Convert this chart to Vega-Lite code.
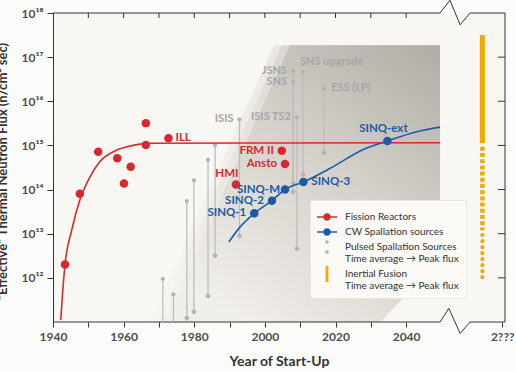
{
  "$schema": "https://vega.github.io/schema/vega-lite/v6.json",
  "width": 452,
  "height": 309,
  "autosize": {"type": "none"},
  "padding": {"left": 53, "top": 13, "right": 11, "bottom": 50},
  "background": "#fcfcfa",
  "view": {"fill": "#f8f7f3", "stroke": null},
  "datasets": {
    "band": [
      {"year": 1971.7, "flux": 1e11, "flux2": 1e11},
      {"year": 2007.1, "flux": 1e11, "flux2": 1.86e17},
      {"year": 2032.6, "flux": 1e11, "flux2": 1.86e17},
      {"year": 2049.6, "flux": 2.5e12, "flux2": 1.86e17}
    ],
    "bandSoft1": [
      {"year": 1969.4, "flux": 1e11, "flux2": 1e11},
      {"year": 2004.8, "flux": 1e11, "flux2": 1.86e17},
      {"year": 2032.6, "flux": 1e11, "flux2": 1.86e17},
      {"year": 2049.6, "flux": 2.5e12, "flux2": 1.86e17}
    ],
    "bandSoft2": [
      {"year": 1967.2, "flux": 1e11, "flux2": 1e11},
      {"year": 2002.6, "flux": 1e11, "flux2": 1.86e17},
      {"year": 2032.6, "flux": 1e11, "flux2": 1.86e17},
      {"year": 2049.6, "flux": 2.5e12, "flux2": 1.86e17}
    ],
    "frame": [
      {"edge": "top", "year": 1940, "flux": 1e18},
      {"edge": "top", "year": 2049.6, "flux": 1e18},
      {"edge": "top", "year": 2052.4, "flux": 1.95e18},
      {"edge": "top", "year": 2055.3, "flux": 5.4e17},
      {"edge": "top", "year": 2058.1, "flux": 1e18},
      {"edge": "top", "year": 2068, "flux": 1e18},
      {"edge": "bottom", "year": 1940, "flux": 1e11},
      {"edge": "bottom", "year": 2049.6, "flux": 1e11},
      {"edge": "bottom", "year": 2052.1, "flux": 2.04e11},
      {"edge": "bottom", "year": 2055.3, "flux": 5.5e10},
      {"edge": "bottom", "year": 2058.1, "flux": 1e11},
      {"edge": "bottom", "year": 2068, "flux": 1e11}
    ],
    "frameTicks": [
      {"year": 2068, "year2": 2068, "flux": 1e18, "flux2": 1e11},
      {"year": 2068, "year2": 2066.0, "flux": 1e12, "flux2": 1e12},
      {"year": 2068, "year2": 2066.0, "flux": 1e13, "flux2": 1e13},
      {"year": 2068, "year2": 2066.0, "flux": 1e14, "flux2": 1e14},
      {"year": 2068, "year2": 2066.0, "flux": 1e15, "flux2": 1e15},
      {"year": 2068, "year2": 2066.0, "flux": 1e16, "flux2": 1e16},
      {"year": 2068, "year2": 2066.0, "flux": 1e17, "flux2": 1e17},
      {"year": 1950, "year2": 1950, "flux": 1e18, "flux2": 7.7e17},
      {"year": 1960, "year2": 1960, "flux": 1e18, "flux2": 7.7e17},
      {"year": 1970, "year2": 1970, "flux": 1e18, "flux2": 7.7e17},
      {"year": 1980, "year2": 1980, "flux": 1e18, "flux2": 7.7e17},
      {"year": 1990, "year2": 1990, "flux": 1e18, "flux2": 7.7e17},
      {"year": 2000, "year2": 2000, "flux": 1e18, "flux2": 7.7e17},
      {"year": 2010, "year2": 2010, "flux": 1e18, "flux2": 7.7e17},
      {"year": 2020, "year2": 2020, "flux": 1e18, "flux2": 7.7e17},
      {"year": 2030, "year2": 2030, "flux": 1e18, "flux2": 7.7e17},
      {"year": 2040, "year2": 2040, "flux": 1e18, "flux2": 7.7e17}
    ],
    "pulsed": [
      {"name": "", "year": 1971.1, "flux": 9.5e11, "avg": 3e10},
      {"name": "", "year": 1974.1, "flux": 4.2e11, "avg": 3e10},
      {"name": "", "year": 1977.9, "flux": 5.5e13, "avg": 1.23e11},
      {"name": "", "year": 1979.9, "flux": 1.62e14, "avg": 1.7e11},
      {"name": "", "year": 1983.9, "flux": 4.7e14, "avg": 3.9e11},
      {"name": "", "year": 1985.9, "flux": 1.02e15, "avg": 3.2e12},
      {"name": "ISIS", "year": 1992.8, "flux": 3.9e15, "avg": 8.9e12},
      {"name": "JSNS", "year": 2008.0, "flux": 4.8e16, "avg": 1.38e14},
      {"name": "SNS", "year": 2008.0, "flux": 2.75e16, "avg": 8.9e13},
      {"name": "ISIS TS2", "year": 2009.1, "flux": 4.3e15, "avg": 4.6e12},
      {"name": "SNS upgrade", "year": 2010.8, "flux": 4.6e16, "avg": 2.2e14},
      {"name": "ESS (LP)", "year": 2016.8, "flux": 1.95e16, "avg": 6.8e14}
    ],
    "fission": [
      {"name": "", "year": 1943.4, "flux": 2.0e12},
      {"name": "", "year": 1947.6, "flux": 8.0e13},
      {"name": "", "year": 1952.8, "flux": 7.2e14},
      {"name": "", "year": 1958.2, "flux": 5.1e14},
      {"name": "", "year": 1960.1, "flux": 1.38e14},
      {"name": "", "year": 1962.0, "flux": 3.3e14},
      {"name": "", "year": 1966.3, "flux": 3.2e15},
      {"name": "", "year": 1966.3, "flux": 1.02e15},
      {"name": "ILL", "year": 1972.7, "flux": 1.45e15},
      {"name": "HMI", "year": 1991.8, "flux": 1.3e14},
      {"name": "FRM II", "year": 2004.8, "flux": 7.6e14},
      {"name": "Ansto", "year": 2005.7, "flux": 3.8e14}
    ],
    "fissionCurve": [
      {"year": 1942.2, "flux": 1.1e11},
      {"year": 1942.7, "flux": 4.4e11},
      {"year": 1943.4, "flux": 2.0e12},
      {"year": 1945.3, "flux": 1.2e13},
      {"year": 1947.6, "flux": 5.8e13},
      {"year": 1950.5, "flux": 1.95e14},
      {"year": 1953.3, "flux": 4.3e14},
      {"year": 1957.1, "flux": 7.2e14},
      {"year": 1960.9, "flux": 9.3e14},
      {"year": 1964.6, "flux": 1.07e15},
      {"year": 1967.4, "flux": 1.12e15},
      {"year": 2049.6, "flux": 1.15e15}
    ],
    "spallation": [
      {"name": "SINQ-1", "year": 1997.0, "flux": 2.9e13},
      {"name": "SINQ-2", "year": 2002.0, "flux": 5.6e13},
      {"name": "SINQ-M", "year": 2005.7, "flux": 1.0e14},
      {"name": "SINQ-3", "year": 2010.9, "flux": 1.48e14},
      {"name": "SINQ-ext", "year": 2034.7, "flux": 1.26e15}
    ],
    "spallationCurve": [
      {"year": 1989.8, "flux": 6.5e12},
      {"year": 1993.0, "flux": 1.43e13},
      {"year": 1997.0, "flux": 2.9e13},
      {"year": 2002.0, "flux": 5.6e13},
      {"year": 2005.7, "flux": 1.0e14},
      {"year": 2010.9, "flux": 1.48e14},
      {"year": 2018.4, "flux": 3.0e14},
      {"year": 2027.9, "flux": 8.1e14},
      {"year": 2034.7, "flux": 1.26e15},
      {"year": 2043.0, "flux": 2.04e15},
      {"year": 2049.6, "flux": 2.6e15}
    ],
    "fusion": [
      {"year": 2061.6, "peak_top": 3.16e17, "solid_bottom": 1.12e15, "square_top": 9.3e14, "square_bottom": 1.2e13, "dot_top": 9.3e12, "dot_bottom": 7.6e11}
    ],
    "categories": [
      {"cat": "Fission Reactors"},
      {"cat": "CW Spallation sources"},
      {"cat": "Pulsed Spallation Sources"},
      {"cat": "Inertial Fusion"}
    ]
  },
  "layer": [
    {
      "data": {"name": "bandSoft2"},
      "mark": {"type": "area", "opacity": 0.3, "color": {"gradient": "linear", "x1": 1, "y1": 0, "x2": 0.25, "y2": 1, "stops": [{"offset": 0, "color": "#b0ada6"}, {"offset": 0.45, "color": "#d3d0c9"}, {"offset": 1, "color": "#f1efea"}]}},
      "encoding": {
        "x": {"field": "year", "type": "quantitative", "scale": {"domain": [1940, 2068], "nice": false, "zero": false},
          "axis": {"orient": "bottom", "values": [1940, 1950, 1960, 1970, 1980, 1990, 2000, 2010, 2020, 2030, 2040, 2067.2], "format": "d",
            "labelExpr": "datum.value > 2060 ? '2???' : (datum.value % 20 == 0 ? datum.label : '')",
            "domain": false, "grid": false, "ticks": true, "tickSize": 5, "tickColor": "#333", "labelFont": "Lato", "labelFontSize": 12, "labelFontWeight": "bold", "labelColor": "#4d4d4d", "labelPadding": 4, "labelFlush": false, "labelOverlap": false,
            "title": "Year of Start-Up", "titleFont": "Lato", "titleFontSize": 14, "titleFontWeight": "bold", "titleColor": "#333", "titlePadding": 12}},
        "y": {"field": "flux", "type": "quantitative", "scale": {"type": "log", "domain": [1e11, 1e18], "nice": false},
          "axis": {"orient": "left", "values": [1e12, 1e13, 1e14, 1e15, 1e16, 1e17, 1e18],
            "labelExpr": "['','','','','','','','','','','','','10¹²','10¹³','10¹⁴','10¹⁵','10¹⁶','10¹⁷','10¹⁸'][round(log(datum.value)/LN10)]",
            "domain": true, "domainColor": "#333", "tickColor": "#333", "tickSize": 6, "grid": false, "labelFont": "Lato", "labelFontSize": 12, "labelFontWeight": "bold", "labelColor": "#4d4d4d", "labelPadding": 4, "labelFlush": false, "labelOverlap": false,
            "title": "\"Effective\" Thermal Neutron Flux (n/cm² sec)", "titleFont": "Lato", "titleFontSize": 13, "titleFontWeight": "bold", "titleColor": "#333", "titleX": -44, "titleY": 158, "titleBaseline": "bottom"}},
        "y2": {"field": "flux2"}
      }
    },
    {
      "data": {"name": "bandSoft1"},
      "mark": {"type": "area", "opacity": 0.4, "color": {"gradient": "linear", "x1": 1, "y1": 0, "x2": 0.25, "y2": 1, "stops": [{"offset": 0, "color": "#b0ada6"}, {"offset": 0.45, "color": "#d3d0c9"}, {"offset": 1, "color": "#f1efea"}]}},
      "encoding": {
        "x": {"field": "year", "type": "quantitative", "scale": {"domain": [1940, 2068], "nice": false, "zero": false}},
        "y": {"field": "flux", "type": "quantitative", "scale": {"type": "log", "domain": [1e11, 1e18], "nice": false}},
        "y2": {"field": "flux2"}
      }
    },
    {
      "data": {"name": "band"},
      "mark": {"type": "area", "color": {"gradient": "linear", "x1": 1, "y1": 0, "x2": 0.25, "y2": 1, "stops": [{"offset": 0, "color": "#b0ada6"}, {"offset": 0.45, "color": "#d3d0c9"}, {"offset": 1, "color": "#f1efea"}]}},
      "encoding": {
        "x": {"field": "year", "type": "quantitative", "scale": {"domain": [1940, 2068], "nice": false, "zero": false}},
        "y": {"field": "flux", "type": "quantitative", "scale": {"type": "log", "domain": [1e11, 1e18], "nice": false}},
        "y2": {"field": "flux2"}
      }
    },
    {
      "data": {"name": "frame"},
      "mark": {"type": "line", "color": "#333", "strokeWidth": 1, "clip": false},
      "encoding": {
        "x": {"field": "year", "type": "quantitative", "scale": {"domain": [1940, 2068], "nice": false, "zero": false}},
        "y": {"field": "flux", "type": "quantitative", "scale": {"type": "log", "domain": [1e11, 1e18], "nice": false}},
        "detail": {"field": "edge"}
      }
    },
    {
      "data": {"name": "frameTicks"},
      "mark": {"type": "rule", "color": "#333", "strokeWidth": 1},
      "encoding": {
        "x": {"field": "year", "type": "quantitative", "scale": {"domain": [1940, 2068], "nice": false, "zero": false}},
        "x2": {"field": "year2"},
        "y": {"field": "flux", "type": "quantitative", "scale": {"type": "log", "domain": [1e11, 1e18], "nice": false}},
        "y2": {"field": "flux2"}
      }
    },
    {
      "data": {"name": "pulsed"},
      "mark": {"type": "rule", "color": "#bdbdbd", "strokeWidth": 1.3, "clip": true},
      "encoding": {
        "x": {"field": "year", "type": "quantitative", "scale": {"domain": [1940, 2068], "nice": false, "zero": false}},
        "y": {"field": "flux", "type": "quantitative", "scale": {"type": "log", "domain": [1e11, 1e18], "nice": false}},
        "y2": {"field": "avg"}
      }
    },
    {
      "data": {"name": "pulsed"},
      "mark": {"type": "point", "shape": "diamond", "filled": true, "color": "#b3b3b3", "size": 34, "opacity": 1, "clip": true},
      "encoding": {
        "x": {"field": "year", "type": "quantitative", "scale": {"domain": [1940, 2068], "nice": false, "zero": false}},
        "y": {"field": "avg", "type": "quantitative", "scale": {"type": "log", "domain": [1e11, 1e18], "nice": false}}
      }
    },
    {
      "data": {"name": "pulsed"},
      "mark": {"type": "point", "shape": "circle", "filled": true, "color": "#b3b3b3", "size": 18, "opacity": 1},
      "encoding": {
        "x": {"field": "year", "type": "quantitative", "scale": {"domain": [1940, 2068], "nice": false, "zero": false}},
        "y": {"field": "flux", "type": "quantitative", "scale": {"type": "log", "domain": [1e11, 1e18], "nice": false}}
      }
    },
    {
      "data": {"name": "fissionCurve"},
      "mark": {"type": "line", "color": "#d42b2b", "strokeWidth": 1.6, "interpolate": "monotone"},
      "encoding": {
        "x": {"field": "year", "type": "quantitative", "scale": {"domain": [1940, 2068], "nice": false, "zero": false}},
        "y": {"field": "flux", "type": "quantitative", "scale": {"type": "log", "domain": [1e11, 1e18], "nice": false}}
      }
    },
    {
      "data": {"name": "spallationCurve"},
      "mark": {"type": "line", "color": "#1f5ca6", "strokeWidth": 1.6, "interpolate": "monotone"},
      "encoding": {
        "x": {"field": "year", "type": "quantitative", "scale": {"domain": [1940, 2068], "nice": false, "zero": false}},
        "y": {"field": "flux", "type": "quantitative", "scale": {"type": "log", "domain": [1e11, 1e18], "nice": false}}
      }
    },
    {
      "data": {"name": "fission"},
      "mark": {"type": "point", "shape": "circle", "filled": true, "color": "#d7282d", "size": 72, "opacity": 1},
      "encoding": {
        "x": {"field": "year", "type": "quantitative", "scale": {"domain": [1940, 2068], "nice": false, "zero": false}},
        "y": {"field": "flux", "type": "quantitative", "scale": {"type": "log", "domain": [1e11, 1e18], "nice": false}}
      }
    },
    {
      "data": {"name": "spallation"},
      "mark": {"type": "point", "shape": "circle", "filled": true, "color": "#1c5aa5", "size": 72, "opacity": 1},
      "encoding": {
        "x": {"field": "year", "type": "quantitative", "scale": {"domain": [1940, 2068], "nice": false, "zero": false}},
        "y": {"field": "flux", "type": "quantitative", "scale": {"type": "log", "domain": [1e11, 1e18], "nice": false}}
      }
    },
    {
      "data": {"name": "fusion"},
      "mark": {"type": "rule", "color": "#f2a900", "strokeWidth": 5, "strokeCap": "butt"},
      "encoding": {
        "x": {"field": "year", "type": "quantitative", "scale": {"domain": [1940, 2068], "nice": false, "zero": false}},
        "y": {"field": "peak_top", "type": "quantitative", "scale": {"type": "log", "domain": [1e11, 1e18], "nice": false}},
        "y2": {"field": "solid_bottom"}
      }
    },
    {
      "data": {"name": "fusion"},
      "mark": {"type": "rule", "color": "#f2a900", "strokeWidth": 4.5, "strokeCap": "butt", "strokeDash": [4, 2.2]},
      "encoding": {
        "x": {"field": "year", "type": "quantitative", "scale": {"domain": [1940, 2068], "nice": false, "zero": false}},
        "y": {"field": "square_top", "type": "quantitative", "scale": {"type": "log", "domain": [1e11, 1e18], "nice": false}},
        "y2": {"field": "square_bottom"}
      }
    },
    {
      "data": {"name": "fusion"},
      "mark": {"type": "rule", "color": "#f2a900", "strokeWidth": 4.2, "strokeCap": "round", "strokeDash": [0.01, 6]},
      "encoding": {
        "x": {"field": "year", "type": "quantitative", "scale": {"domain": [1940, 2068], "nice": false, "zero": false}},
        "y": {"field": "dot_top", "type": "quantitative", "scale": {"type": "log", "domain": [1e11, 1e18], "nice": false}},
        "y2": {"field": "dot_bottom"}
      }
    },
    {
      "data": {"name": "fission"},
      "transform": [{"filter": "indexof(['FRM II','Ansto'], datum.name) >= 0"}],
      "mark": {"type": "text", "align": "right", "baseline": "middle", "dx": -8, "font": "Lato", "fontSize": 11.5, "fontWeight": "bold", "color": "#d7282d"},
      "encoding": {
        "x": {"field": "year", "type": "quantitative", "scale": {"domain": [1940, 2068], "nice": false, "zero": false}},
        "y": {"field": "flux", "type": "quantitative", "scale": {"type": "log", "domain": [1e11, 1e18], "nice": false}},
        "text": {"field": "name"}
      }
    },
    {
      "data": {"name": "fission"},
      "transform": [{"filter": "datum.name == 'ILL'"}],
      "mark": {"type": "text", "align": "left", "baseline": "middle", "dx": 7, "font": "Lato", "fontSize": 11.5, "fontWeight": "bold", "color": "#d7282d"},
      "encoding": {
        "x": {"field": "year", "type": "quantitative", "scale": {"domain": [1940, 2068], "nice": false, "zero": false}},
        "y": {"field": "flux", "type": "quantitative", "scale": {"type": "log", "domain": [1e11, 1e18], "nice": false}},
        "text": {"field": "name"}
      }
    },
    {
      "data": {"name": "fission"},
      "transform": [{"filter": "datum.name == 'HMI'"}],
      "mark": {"type": "text", "align": "center", "baseline": "middle", "dx": -9, "dy": -11, "font": "Lato", "fontSize": 11.5, "fontWeight": "bold", "color": "#d7282d"},
      "encoding": {
        "x": {"field": "year", "type": "quantitative", "scale": {"domain": [1940, 2068], "nice": false, "zero": false}},
        "y": {"field": "flux", "type": "quantitative", "scale": {"type": "log", "domain": [1e11, 1e18], "nice": false}},
        "text": {"field": "name"}
      }
    },
    {
      "data": {"name": "spallation"},
      "transform": [{"filter": "indexof(['SINQ-1','SINQ-2'], datum.name) >= 0"}],
      "mark": {"type": "text", "align": "right", "baseline": "middle", "dx": -8, "font": "Lato", "fontSize": 11.5, "fontWeight": "bold", "color": "#1c5aa5"},
      "encoding": {
        "x": {"field": "year", "type": "quantitative", "scale": {"domain": [1940, 2068], "nice": false, "zero": false}},
        "y": {"field": "flux", "type": "quantitative", "scale": {"type": "log", "domain": [1e11, 1e18], "nice": false}},
        "text": {"field": "name"}
      }
    },
    {
      "data": {"name": "spallation"},
      "transform": [{"filter": "datum.name == 'SINQ-M'"}],
      "mark": {"type": "text", "align": "right", "baseline": "middle", "dx": -5, "font": "Lato", "fontSize": 11.5, "fontWeight": "bold", "color": "#1c5aa5"},
      "encoding": {
        "x": {"field": "year", "type": "quantitative", "scale": {"domain": [1940, 2068], "nice": false, "zero": false}},
        "y": {"field": "flux", "type": "quantitative", "scale": {"type": "log", "domain": [1e11, 1e18], "nice": false}},
        "text": {"field": "name"}
      }
    },
    {
      "data": {"name": "spallation"},
      "transform": [{"filter": "datum.name == 'SINQ-3'"}],
      "mark": {"type": "text", "align": "left", "baseline": "middle", "dx": 8, "font": "Lato", "fontSize": 11.5, "fontWeight": "bold", "color": "#1c5aa5"},
      "encoding": {
        "x": {"field": "year", "type": "quantitative", "scale": {"domain": [1940, 2068], "nice": false, "zero": false}},
        "y": {"field": "flux", "type": "quantitative", "scale": {"type": "log", "domain": [1e11, 1e18], "nice": false}},
        "text": {"field": "name"}
      }
    },
    {
      "data": {"name": "spallation"},
      "transform": [{"filter": "datum.name == 'SINQ-ext'"}],
      "mark": {"type": "text", "align": "center", "baseline": "middle", "dx": -4, "dy": -12, "font": "Lato", "fontSize": 11.5, "fontWeight": "bold", "color": "#1c5aa5"},
      "encoding": {
        "x": {"field": "year", "type": "quantitative", "scale": {"domain": [1940, 2068], "nice": false, "zero": false}},
        "y": {"field": "flux", "type": "quantitative", "scale": {"type": "log", "domain": [1e11, 1e18], "nice": false}},
        "text": {"field": "name"}
      }
    },
    {
      "data": {"name": "pulsed"},
      "transform": [{"filter": "indexof(['ISIS','ISIS TS2','JSNS','SNS'], datum.name) >= 0"}],
      "mark": {"type": "text", "align": "right", "baseline": "middle", "dx": -6, "font": "Lato", "fontSize": 11, "fontWeight": "bold", "color": "#a6a6a6"},
      "encoding": {
        "x": {"field": "year", "type": "quantitative", "scale": {"domain": [1940, 2068], "nice": false, "zero": false}},
        "y": {"field": "flux", "type": "quantitative", "scale": {"type": "log", "domain": [1e11, 1e18], "nice": false}},
        "text": {"field": "name"}
      }
    },
    {
      "data": {"name": "pulsed"},
      "transform": [{"filter": "datum.name == 'SNS upgrade'"}],
      "mark": {"type": "text", "align": "left", "baseline": "middle", "dx": -3, "dy": -10, "font": "Lato", "fontSize": 11, "fontWeight": "bold", "color": "#a6a6a6"},
      "encoding": {
        "x": {"field": "year", "type": "quantitative", "scale": {"domain": [1940, 2068], "nice": false, "zero": false}},
        "y": {"field": "flux", "type": "quantitative", "scale": {"type": "log", "domain": [1e11, 1e18], "nice": false}},
        "text": {"field": "name"}
      }
    },
    {
      "data": {"name": "pulsed"},
      "transform": [{"filter": "datum.name == 'ESS (LP)'"}],
      "mark": {"type": "text", "align": "left", "baseline": "middle", "dx": 7, "font": "Lato", "fontSize": 11, "fontWeight": "bold", "color": "#a6a6a6"},
      "encoding": {
        "x": {"field": "year", "type": "quantitative", "scale": {"domain": [1940, 2068], "nice": false, "zero": false}},
        "y": {"field": "flux", "type": "quantitative", "scale": {"type": "log", "domain": [1e11, 1e18], "nice": false}},
        "text": {"field": "name"}
      }
    },
    {
      "data": {"name": "categories"},
      "transform": [{"filter": "false"}],
      "mark": {"type": "point", "filled": true, "opacity": 1},
      "encoding": {
        "color": {"field": "cat", "type": "nominal",
          "scale": {"domain": ["Fission Reactors", "CW Spallation sources", "Pulsed Spallation Sources", "Inertial Fusion"], "range": ["#d7282d", "#1c5aa5", "#b3b3b3", "#f2a900"]},
          "legend": {"title": null, "orient": "none", "legendX": 257, "legendY": 187, "direction": "vertical", "fillColor": "#fbfaf7", "strokeColor": "#e8e6e0", "padding": 7, "cornerRadius": 2, "symbolSize": 400, "symbolStrokeWidth": 0, "symbolOpacity": 1, "labelFont": "Lato", "labelFontSize": 10, "labelColor": "#333", "labelOffset": 8, "rowPadding": 0, "labelLimit": 200,
            "labelExpr": "datum.label == 'Pulsed Spallation Sources' ? ['Pulsed Spallation Sources', 'Time average → Peak flux'] : datum.label == 'Inertial Fusion' ? ['Inertial Fusion', 'Time average → Peak flux'] : datum.label"}},
        "shape": {"field": "cat", "type": "nominal",
          "scale": {"domain": ["Fission Reactors", "CW Spallation sources", "Pulsed Spallation Sources", "Inertial Fusion"],
            "range": ["M-1,-0.065H1V0.065H-1Z M0.38,0A0.38,0.38 0 1,1 -0.38,0A0.38,0.38 0 1,1 0.38,0Z", "M-1,-0.065H1V0.065H-1Z M0.38,0A0.38,0.38 0 1,1 -0.38,0A0.38,0.38 0 1,1 0.38,0Z", "M0.18,-0.5A0.18,0.18 0 1,1 -0.18,-0.5A0.18,0.18 0 1,1 0.18,-0.5Z M0,0.27L0.23,0.5L0,0.73L-0.23,0.5Z", "M-0.14,-0.8H0.14V0.8H-0.14Z"]},
          "legend": {"title": null, "orient": "none", "legendX": 257, "legendY": 187, "direction": "vertical", "fillColor": "#fbfaf7", "strokeColor": "#e8e6e0", "padding": 7, "cornerRadius": 2, "symbolSize": 400, "symbolStrokeWidth": 0, "symbolOpacity": 1, "labelFont": "Lato", "labelFontSize": 10, "labelColor": "#333", "labelOffset": 8, "rowPadding": 0, "labelLimit": 200,
            "labelExpr": "datum.label == 'Pulsed Spallation Sources' ? ['Pulsed Spallation Sources', 'Time average → Peak flux'] : datum.label == 'Inertial Fusion' ? ['Inertial Fusion', 'Time average → Peak flux'] : datum.label"}}
      }
    }
  ]
}
